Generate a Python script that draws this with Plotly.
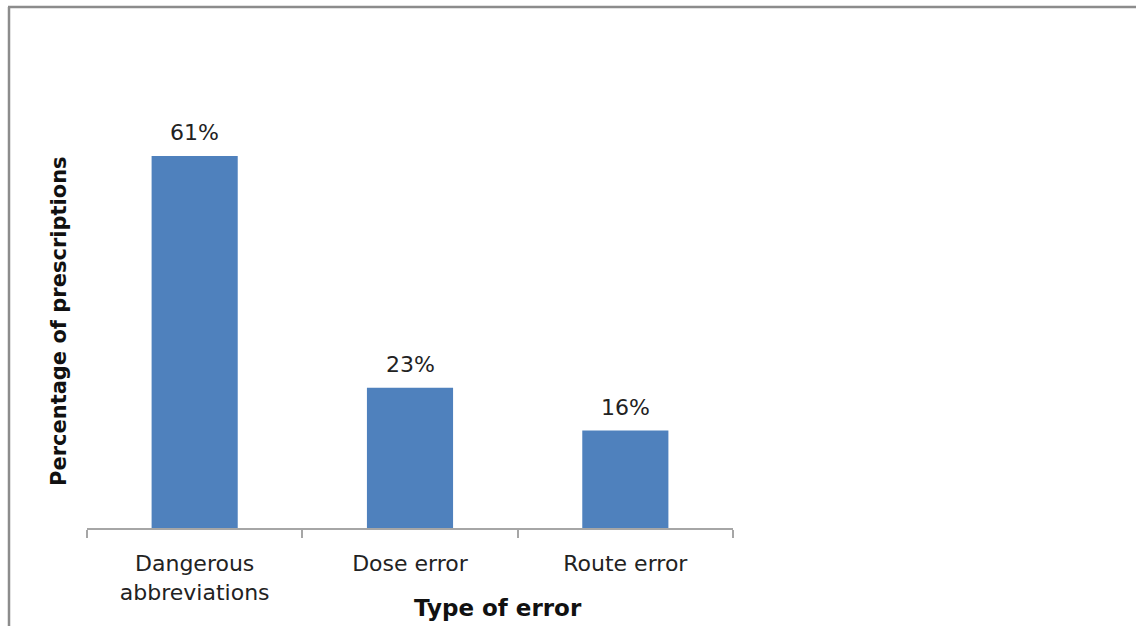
import plotly.graph_objects as go

# Data
categories = ["Dangerous<br>abbreviations", "Dose error", "Route error"]
percentages = [61, 23, 16]
value_labels = ["61%", "23%", "16%"]

W, H = 1136, 626
# plot area in pixels
PL, PR, PT, PB = 87, 733, 101, 528
pw, ph = PR - PL, PB - PT

def px_x(x):
    return (x - PL) / pw

def px_y(y):
    return (PB - y) / ph

font_family = "DejaVu Sans, Verdana, sans-serif"

fig = go.Figure(
    go.Bar(
        x=categories,
        y=percentages,
        marker=dict(color="#4F81BD", line=dict(width=0)),
        width=0.4,
    )
)

# value labels above each bar
label_annotations = [
    dict(
        x=c, y=v, xref="x", yref="y",
        text=t, showarrow=False,
        xanchor="center", yanchor="middle", yshift=23,
        font=dict(size=22, color="#222222"),
    )
    for c, v, t in zip(categories, percentages, value_labels)
]

fig.update_layout(
    width=W,
    height=H,
    margin=dict(l=PL, r=W - PR, t=PT, b=H - PB, pad=0),
    paper_bgcolor="white",
    plot_bgcolor="white",
    showlegend=False,
    font=dict(family=font_family, color="#222222"),
    xaxis=dict(
        showline=True,
        linecolor="#A6A6A6",
        linewidth=1.5,
        ticks="outside",
        ticklen=8,
        tickcolor="#A6A6A6",
        tickwidth=1.5,
        tickson="boundaries",
        ticklabelstandoff=15,
        tickfont=dict(size=22, color="#222222"),
        showgrid=False,
        zeroline=False,
        fixedrange=True,
    ),
    yaxis=dict(
        range=[0, 70],
        showline=False,
        showticklabels=False,
        ticks="",
        showgrid=False,
        zeroline=False,
    ),
    annotations=label_annotations + [
        dict(
            text="<b>Type of error</b>",
            xref="paper", yref="paper",
            x=px_x(498), y=px_y(608),
            xanchor="center", yanchor="middle",
            showarrow=False,
            font=dict(size=23, color="#111111"),
        ),
        dict(
            text="<b>Percentage of prescriptions</b>",
            xref="paper", yref="paper",
            x=px_x(59), y=px_y(321),
            xanchor="center", yanchor="middle",
            textangle=-90,
            showarrow=False,
            font=dict(size=21, color="#111111"),
        ),
    ],
    shapes=[
        # chart frame (left and top edges)
        dict(type="line", xref="paper", yref="paper",
             x0=px_x(9), x1=px_x(9), y0=px_y(7), y1=px_y(H + 5),
             line=dict(color="#8C8C8C", width=2.5)),
        dict(type="line", xref="paper", yref="paper",
             x0=px_x(8), x1=px_x(W + 5), y0=px_y(7), y1=px_y(7),
             line=dict(color="#8C8C8C", width=2.5)),
    ],
)

fig.write_html("out.html")
